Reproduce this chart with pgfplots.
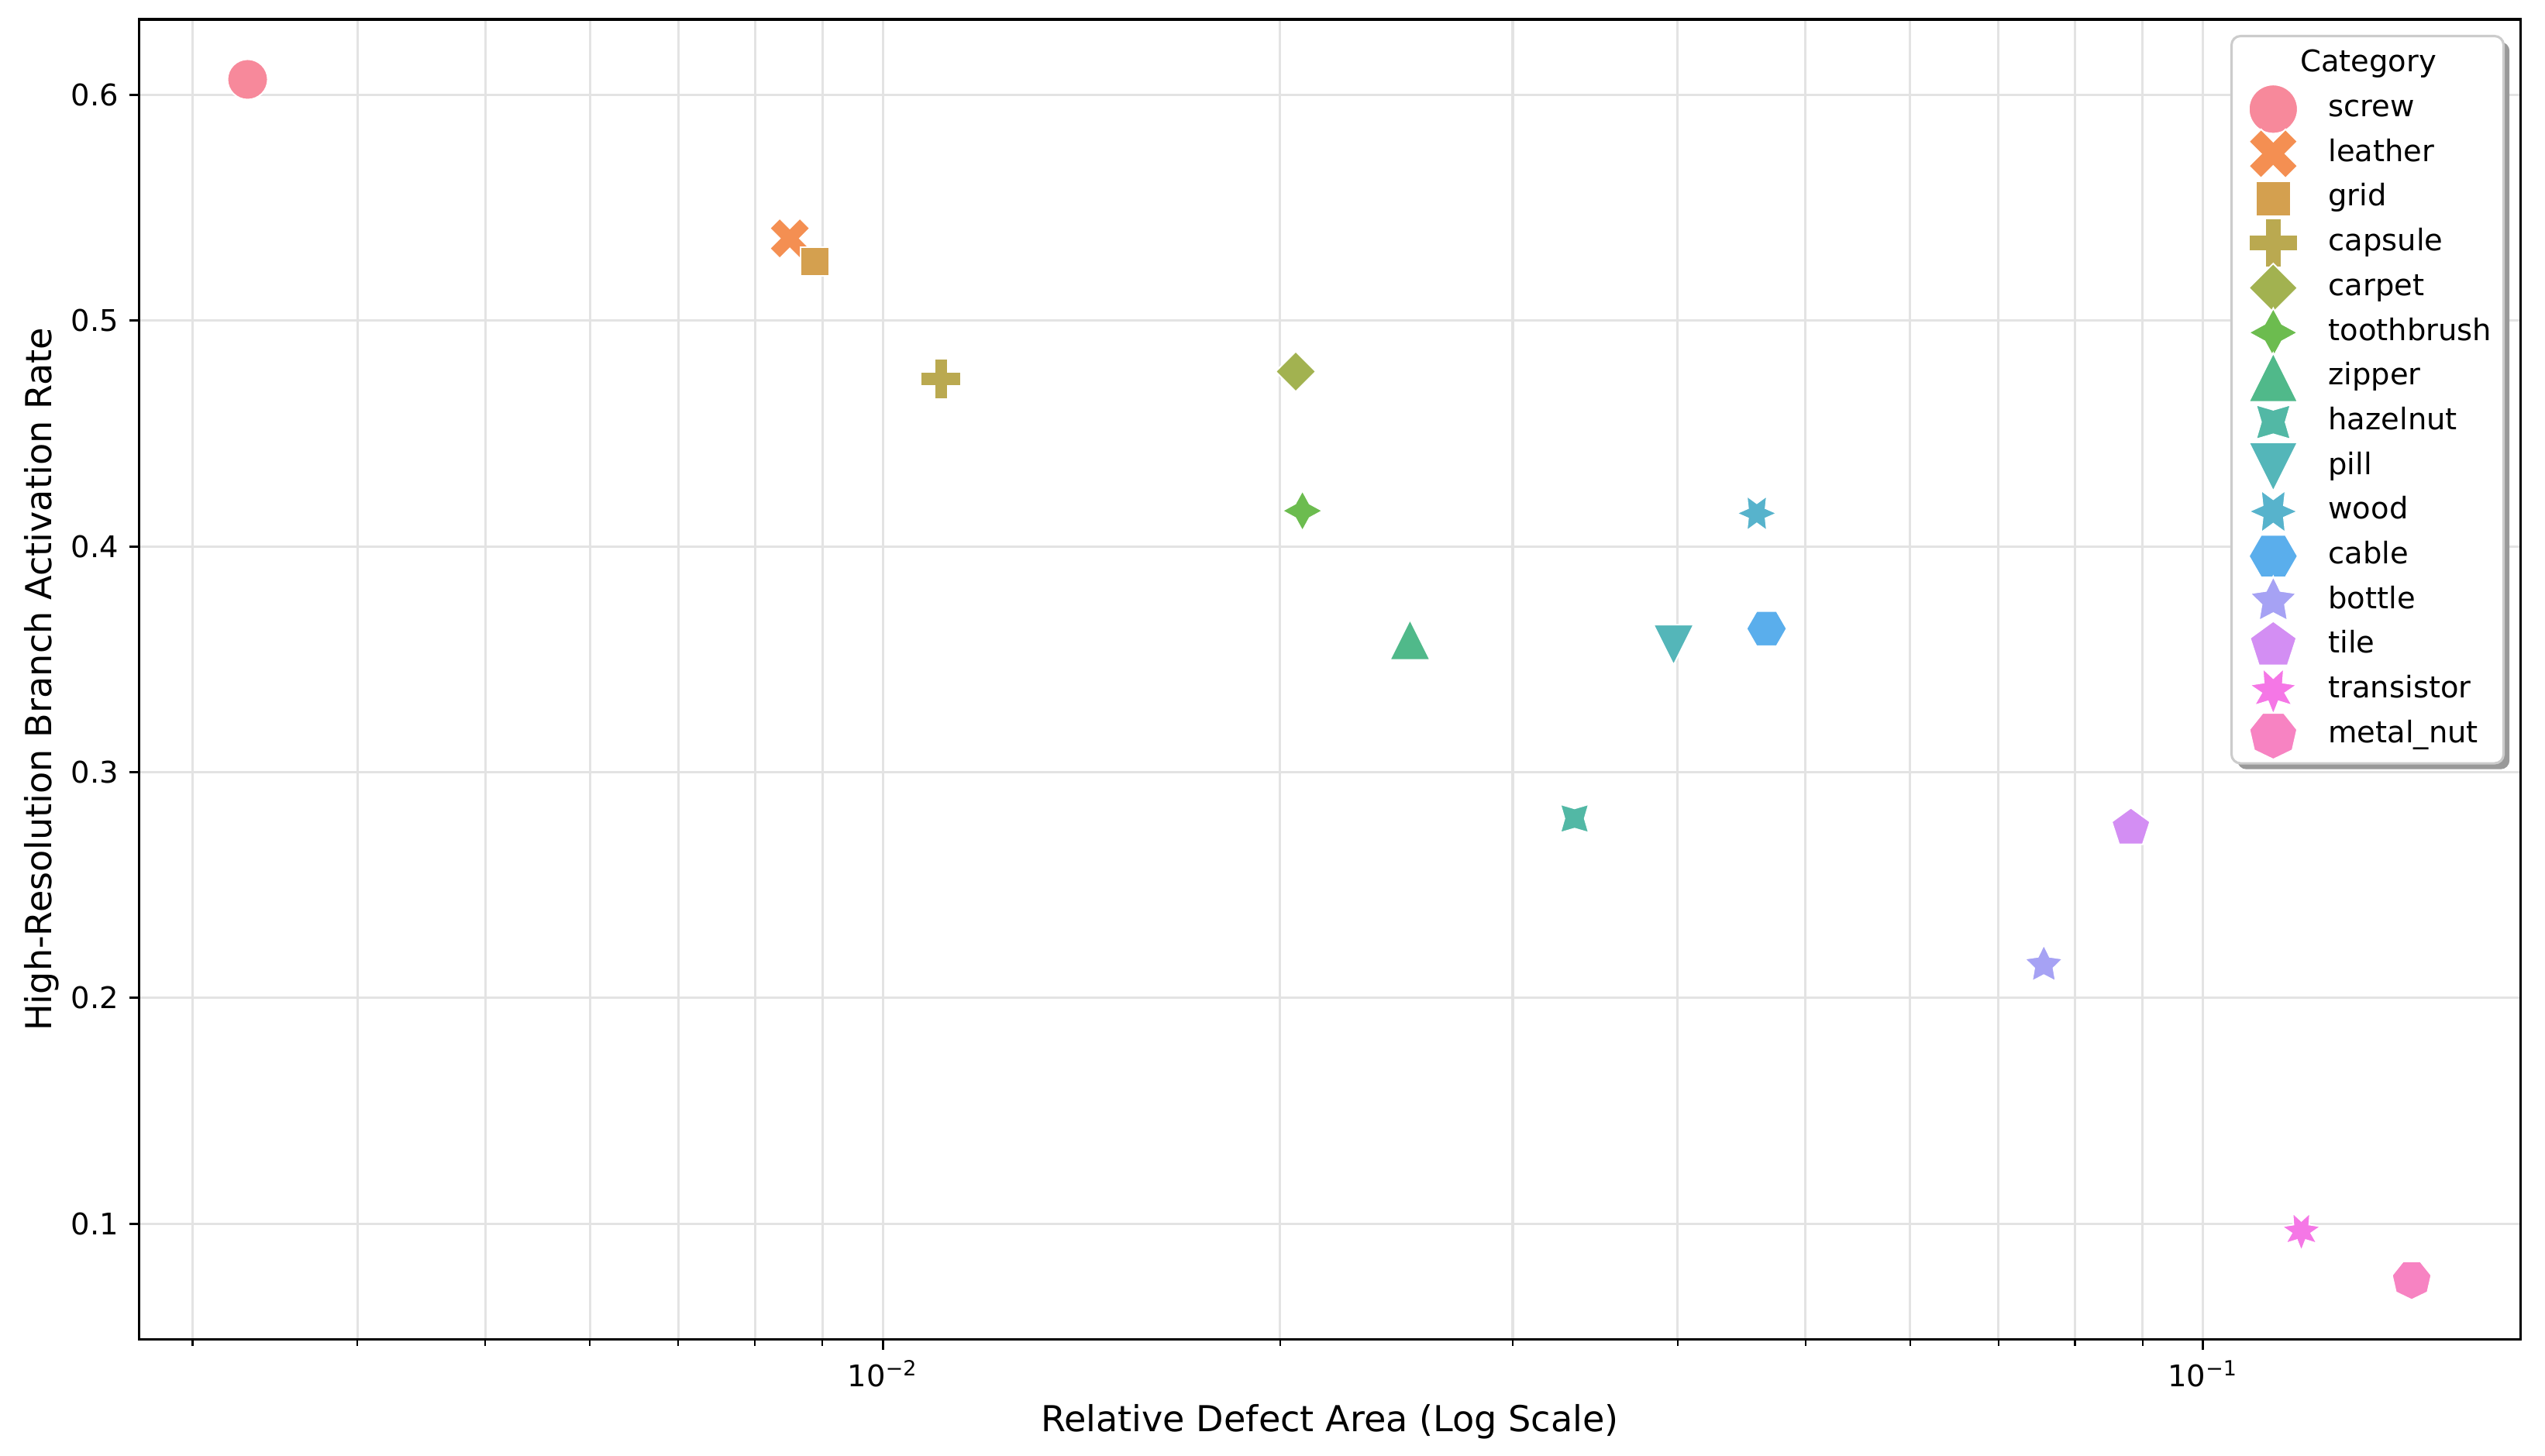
\documentclass[border=0pt]{standalone}
\usepackage{fontspec}
\setmainfont{DejaVu Sans}
\usepackage{pgfplots}
\pgfplotsset{compat=1.18}
\usetikzlibrary{shadows}

\definecolor{gridc}{HTML}{E3E3E3}
\definecolor{c1}{HTML}{F7899B}
\definecolor{c2}{HTML}{F48F52}
\definecolor{c3}{HTML}{D4A04F}
\definecolor{c4}{HTML}{BAA950}
\definecolor{c5}{HTML}{A2B250}
\definecolor{c6}{HTML}{6CBC4F}
\definecolor{c7}{HTML}{50B98A}
\definecolor{c8}{HTML}{52B8A5}
\definecolor{c9}{HTML}{54B6B9}
\definecolor{c10}{HTML}{57B3CC}
\definecolor{c11}{HTML}{5AAEEC}
\definecolor{c12}{HTML}{A6A2F4}
\definecolor{c13}{HTML}{D38EF3}
\definecolor{c14}{HTML}{F577E6}
\definecolor{c15}{HTML}{F783C2}

\def\pp#1#2{\pgfpointpolar{#1}{#2\pgfplotmarksize}}
\def\pq#1#2{\pgfpoint{#1\pgfplotmarksize}{#2\pgfplotmarksize}}
% circle
\pgfdeclareplotmark{mO}{\pgfpathcircle{\pgfpointorigin}{\pgfplotmarksize}\pgfusepathqfillstroke}
% filled X
\pgfdeclareplotmark{mX}{%
\pgfpathmoveto{\pq{-0.5*}{-1*}}\pgfpathlineto{\pq{0*}{-0.5*}}\pgfpathlineto{\pq{0.5*}{-1*}}%
\pgfpathlineto{\pq{1*}{-0.5*}}\pgfpathlineto{\pq{0.5*}{0*}}\pgfpathlineto{\pq{1*}{0.5*}}%
\pgfpathlineto{\pq{0.5*}{1*}}\pgfpathlineto{\pq{0*}{0.5*}}\pgfpathlineto{\pq{-0.5*}{1*}}%
\pgfpathlineto{\pq{-1*}{0.5*}}\pgfpathlineto{\pq{-0.5*}{0*}}\pgfpathlineto{\pq{-1*}{-0.5*}}%
\pgfpathclose\pgfusepathqfillstroke}
% square (4,0,45)
\pgfdeclareplotmark{mS}{%
\pgfpathmoveto{\pp{45}{}}\pgfpathlineto{\pp{135}{}}\pgfpathlineto{\pp{225}{}}\pgfpathlineto{\pp{315}{}}%
\pgfpathclose\pgfusepathqfillstroke}
% filled plus
\pgfdeclareplotmark{mP}{%
\pgfpathmoveto{\pq{-0.3333*}{-1*}}\pgfpathlineto{\pq{0.3333*}{-1*}}\pgfpathlineto{\pq{0.3333*}{-0.3333*}}%
\pgfpathlineto{\pq{1*}{-0.3333*}}\pgfpathlineto{\pq{1*}{0.3333*}}\pgfpathlineto{\pq{0.3333*}{0.3333*}}%
\pgfpathlineto{\pq{0.3333*}{1*}}\pgfpathlineto{\pq{-0.3333*}{1*}}\pgfpathlineto{\pq{-0.3333*}{0.3333*}}%
\pgfpathlineto{\pq{-1*}{0.3333*}}\pgfpathlineto{\pq{-1*}{-0.3333*}}\pgfpathlineto{\pq{-0.3333*}{-0.3333*}}%
\pgfpathclose\pgfusepathqfillstroke}
% diamond (4,0,0)
\pgfdeclareplotmark{mD}{%
\pgfpathmoveto{\pp{90}{}}\pgfpathlineto{\pp{180}{}}\pgfpathlineto{\pp{270}{}}\pgfpathlineto{\pp{0}{}}%
\pgfpathclose\pgfusepathqfillstroke}
% 4-star (4,1,0)
\pgfdeclareplotmark{mFa}{%
\pgfpathmoveto{\pp{90}{}}\pgfpathlineto{\pp{135}{0.5*}}\pgfpathlineto{\pp{180}{}}\pgfpathlineto{\pp{225}{0.5*}}%
\pgfpathlineto{\pp{270}{}}\pgfpathlineto{\pp{315}{0.5*}}\pgfpathlineto{\pp{0}{}}\pgfpathlineto{\pp{45}{0.5*}}%
\pgfpathclose\pgfusepathqfillstroke}
% triangle up
\pgfdeclareplotmark{mTu}{%
\pgfpathmoveto{\pq{0*}{1*}}\pgfpathlineto{\pq{-1*}{-1*}}\pgfpathlineto{\pq{1*}{-1*}}%
\pgfpathclose\pgfusepathqfillstroke}
% 4-star (4,1,45)
\pgfdeclareplotmark{mFb}{%
\pgfpathmoveto{\pp{135}{}}\pgfpathlineto{\pp{180}{0.5*}}\pgfpathlineto{\pp{225}{}}\pgfpathlineto{\pp{270}{0.5*}}%
\pgfpathlineto{\pp{315}{}}\pgfpathlineto{\pp{0}{0.5*}}\pgfpathlineto{\pp{45}{}}\pgfpathlineto{\pp{90}{0.5*}}%
\pgfpathclose\pgfusepathqfillstroke}
% triangle down
\pgfdeclareplotmark{mTd}{%
\pgfpathmoveto{\pq{0*}{-1*}}\pgfpathlineto{\pq{1*}{1*}}\pgfpathlineto{\pq{-1*}{1*}}%
\pgfpathclose\pgfusepathqfillstroke}
% 6-star (6,1,30)
\pgfdeclareplotmark{mSix}{%
\pgfpathmoveto{\pp{120}{}}\pgfpathlineto{\pp{150}{0.5*}}\pgfpathlineto{\pp{180}{}}\pgfpathlineto{\pp{210}{0.5*}}%
\pgfpathlineto{\pp{240}{}}\pgfpathlineto{\pp{270}{0.5*}}\pgfpathlineto{\pp{300}{}}\pgfpathlineto{\pp{330}{0.5*}}%
\pgfpathlineto{\pp{0}{}}\pgfpathlineto{\pp{30}{0.5*}}\pgfpathlineto{\pp{60}{}}\pgfpathlineto{\pp{90}{0.5*}}%
\pgfpathclose\pgfusepathqfillstroke}
% hexagon (6,0,30)
\pgfdeclareplotmark{mHex}{%
\pgfpathmoveto{\pp{120}{}}\pgfpathlineto{\pp{180}{}}\pgfpathlineto{\pp{240}{}}%
\pgfpathlineto{\pp{300}{}}\pgfpathlineto{\pp{0}{}}\pgfpathlineto{\pp{60}{}}%
\pgfpathclose\pgfusepathqfillstroke}
% 5-star
\pgfdeclareplotmark{mFive}{%
\pgfpathmoveto{\pp{90}{}}\pgfpathlineto{\pp{126}{0.5*}}\pgfpathlineto{\pp{162}{}}\pgfpathlineto{\pp{198}{0.5*}}%
\pgfpathlineto{\pp{234}{}}\pgfpathlineto{\pp{270}{0.5*}}\pgfpathlineto{\pp{306}{}}\pgfpathlineto{\pp{342}{0.5*}}%
\pgfpathlineto{\pp{18}{}}\pgfpathlineto{\pp{54}{0.5*}}%
\pgfpathclose\pgfusepathqfillstroke}
% pentagon
\pgfdeclareplotmark{mPent}{%
\pgfpathmoveto{\pp{90}{}}\pgfpathlineto{\pp{162}{}}\pgfpathlineto{\pp{234}{}}\pgfpathlineto{\pp{306}{}}\pgfpathlineto{\pp{18}{}}%
\pgfpathclose\pgfusepathqfillstroke}
% 7-star (7,1,25.714)
\pgfdeclareplotmark{mSeven}{%
\pgfpathmoveto{\pp{115.714}{}}\pgfpathlineto{\pp{141.429}{0.5*}}\pgfpathlineto{\pp{167.143}{}}\pgfpathlineto{\pp{192.857}{0.5*}}%
\pgfpathlineto{\pp{218.571}{}}\pgfpathlineto{\pp{244.286}{0.5*}}\pgfpathlineto{\pp{270}{}}\pgfpathlineto{\pp{295.714}{0.5*}}%
\pgfpathlineto{\pp{321.429}{}}\pgfpathlineto{\pp{347.143}{0.5*}}\pgfpathlineto{\pp{12.857}{}}\pgfpathlineto{\pp{38.571}{0.5*}}%
\pgfpathlineto{\pp{64.286}{}}\pgfpathlineto{\pp{90}{0.5*}}%
\pgfpathclose\pgfusepathqfillstroke}
% heptagon (7,0,25.714)
\pgfdeclareplotmark{mHept}{%
\pgfpathmoveto{\pp{115.714}{}}\pgfpathlineto{\pp{167.143}{}}\pgfpathlineto{\pp{218.571}{}}\pgfpathlineto{\pp{270}{}}%
\pgfpathlineto{\pp{321.429}{}}\pgfpathlineto{\pp{12.857}{}}\pgfpathlineto{\pp{64.286}{}}%
\pgfpathclose\pgfusepathqfillstroke}

\pgfplotsset{
  cat/.style 2 args={only marks, mark=#1, mark size=6.76pt,
    mark options={fill=#2, draw=white, line width=0.5pt, solid},
    legend image code/.code={%
      \pgfpathrectangle{\pgfpoint{0pt}{-3pt}}{\pgfpoint{20pt}{6pt}}%
      \pgfusepath{use as bounding box}%
      \begin{pgfinterruptboundingbox}%
      \pgfsetlinewidth{0.5pt}\pgfsetstrokecolor{white}\pgfsetfillcolor{#2}%
      \pgftransformshift{\pgfpoint{10pt}{0pt}}%
      \pgfsetplotmarksize{8.2pt}%
      \pgfuseplotmark{#1}%
      \end{pgfinterruptboundingbox}}}
}

\begin{document}
\begin{tikzpicture}
\begin{axis}[
  scale only axis, width=798.7pt, height=443pt,
  xmode=log, xmin=0.002735, xmax=0.1739, ymin=0.0486, ymax=0.6335,
  xtick={0.01,0.1}, xticklabels={10\textsuperscript{−2},10\textsuperscript{−1}},
  minor xtick={0.003,0.004,0.005,0.006,0.007,0.008,0.009,0.02,0.03,0.04,0.05,0.06,0.07,0.08,0.09},
  ytick={0.1,0.2,0.3,0.4,0.5,0.6}, yticklabels={0.1,0.2,0.3,0.4,0.5,0.6},
  xtick pos=bottom, ytick pos=left, tick align=outside,
  major tick length=3.5pt, minor tick length=2pt,
  major tick style={black, line width=0.8pt}, minor tick style={black, line width=0.6pt},
  xmajorgrids=true, xminorgrids=true, ymajorgrids=true,
  major grid style={draw=gridc, line width=0.8pt}, minor grid style={draw=gridc, line width=0.8pt},
  axis line style={black, line width=0.8pt},
  tick label style={font=\fontsize{10}{12}\selectfont},
  xlabel={Relative Defect Area (Log Scale)},
  ylabel={High-Resolution Branch Activation Rate},
  label style={font=\fontsize{12}{14.4}\selectfont},
  xlabel style={at={(axis description cs:0.5,0)}, anchor=base, yshift=-30.7pt},
  ylabel style={at={(axis description cs:0,0.5)}, anchor=base, yshift=29.4pt},
  legend cell align=left,
  legend style={at={(1,1)}, anchor=north east, xshift=-5.2pt, yshift=-5.2pt,
    draw=black!20, line width=0.8pt, fill=white, rounded corners=3pt,
    drop shadow={shadow xshift=2pt, shadow yshift=-2pt, fill=black!40, opacity=1},
    font=\fontsize{10}{12}\selectfont,
    inner xsep=4pt, inner ysep=2pt, column sep=8.5pt, row sep=0pt,
    nodes={inner xsep=0pt, inner ysep=2.75pt, text height=7.3pt, text depth=2.2pt}},
]
\addlegendimage{empty legend}
\addlegendentry{\hspace*{-9.4pt}Category}
\addplot[cat={mO}{c1}] coordinates {(0.003303,0.6069)};
\addlegendentry{screw}
\addplot[cat={mX}{c2}] coordinates {(0.008503,0.5365)};
\addlegendentry{leather}
\addplot[cat={mS}{c3}] coordinates {(0.00888,0.5262)};
\addlegendentry{grid}
\addplot[cat={mP}{c4}] coordinates {(0.01107,0.4742)};
\addlegendentry{capsule}
\addplot[cat={mD}{c5}] coordinates {(0.02055,0.4775)};
\addlegendentry{carpet}
\addplot[cat={mFa}{c6}] coordinates {(0.02079,0.4158)};
\addlegendentry{toothbrush}
\addplot[cat={mTu}{c7}] coordinates {(0.02508,0.3587)};
\addlegendentry{zipper}
\addplot[cat={mFb}{c8}] coordinates {(0.03342,0.2795)};
\addlegendentry{hazelnut}
\addplot[cat={mTd}{c9}] coordinates {(0.03972,0.3564)};
\addlegendentry{pill}
\addplot[cat={mSix}{c10}] coordinates {(0.04592,0.4147)};
\addlegendentry{wood}
\addplot[cat={mHex}{c11}] coordinates {(0.04671,0.3636)};
\addlegendentry{cable}
\addplot[cat={mFive}{c12}] coordinates {(0.07577,0.2146)};
\addlegendentry{bottle}
\addplot[cat={mPent}{c13}] coordinates {(0.08818,0.2753)};
\addlegendentry{tile}
\addplot[cat={mSeven}{c14}] coordinates {(0.1187,0.0968)};
\addlegendentry{transistor}
\addplot[cat={mHept}{c15}] coordinates {(0.1439,0.0752)};
\addlegendentry{metal\_nut}
\coordinate (SW) at (rel axis cs:0,0);
\coordinate (NE) at (rel axis cs:1,1);
\end{axis}
\pgfresetboundingbox
\path[use as bounding box] ([xshift=-46.8pt,yshift=-39pt]SW) rectangle ([xshift=8.3pt,yshift=6.5pt]NE);
\end{tikzpicture}
\end{document}
